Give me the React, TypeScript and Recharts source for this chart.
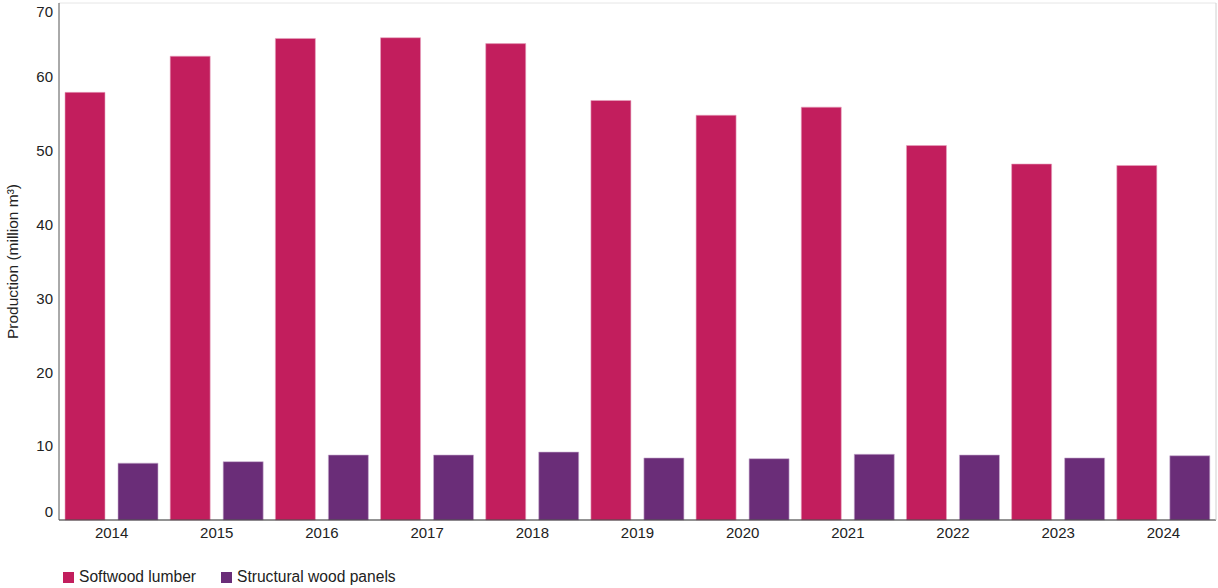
import { BarChart, Bar, XAxis, YAxis, CartesianGrid, Legend } from 'recharts';

const years = ['2014', '2015', '2016', '2017', '2018', '2019', '2020', '2021', '2022', '2023', '2024'];
const softwoodLumber = [57.9, 62.8, 65.2, 65.3, 64.5, 56.8, 54.8, 55.9, 50.7, 48.2, 48.0];
const structuralPanels = [7.7, 7.9, 8.8, 8.8, 9.2, 8.4, 8.3, 8.9, 8.8, 8.4, 8.7];
const yTicks = [0, 10, 20, 30, 40, 50, 60, 70];

const data = years.map((year, i) => ({
  year,
  softwood: softwoodLumber[i],
  panels: structuralPanels[i],
}));

const FONT = '"Liberation Sans", Arial, sans-serif';

// top and bottom labels sit slightly inside the plot in the original
function YTick(props: any) {
  const { x, y, payload } = props;
  let shift = 0;
  if (payload.value === 70) shift = 9;
  if (payload.value === 0) shift = -8;
  return (
    <text x={x} y={y + shift} dy="0.355em" textAnchor="end" fill="#222" fontSize={15} fontFamily={FONT}>
      {payload.value}
    </text>
  );
}

function LegendContent(props: any) {
  const { payload } = props;
  return (
    <div style={{ display: 'flex', alignItems: 'center', fontFamily: FONT, fontSize: 15.6, color: '#222' }}>
      {payload.map((entry: any) => (
        <div key={entry.value} style={{ display: 'flex', alignItems: 'center', marginRight: 25 }}>
          <span style={{ width: 11, height: 11, background: entry.color, display: 'inline-block', marginRight: 5 }} />
          <span>{entry.value}</span>
        </div>
      ))}
    </div>
  );
}

export default function App() {
  return (
    <div style={{ position: 'absolute', left: 0, top: 0, background: '#fff' }}>
      <BarChart
        width={1218}
        height={588}
        data={data}
        margin={{ top: 3, right: 0, left: 0, bottom: 8 }}
        barCategoryGap={6}
        barGap={13}
      >
        <CartesianGrid vertical={false} stroke="#e6e6e6" />
        <XAxis
          dataKey="year"
          height={30}
          tickLine={false}
          tickSize={5}
          tickMargin={2}
          axisLine={{ stroke: '#333' }}
          tick={{ fill: '#222', fontSize: 15, fontFamily: FONT }}
        />
        <YAxis
          yAxisId="left"
          width={59}
          domain={[0, 70]}
          ticks={yTicks}
          interval={0}
          tickLine={false}
          tickSize={4}
          tickMargin={2}
          axisLine={{ stroke: '#555' }}
          tick={<YTick />}
          label={{
            value: 'Production (million m³)',
            angle: -90,
            position: 'insideLeft',
            offset: 12,
            style: { textAnchor: 'middle', fill: '#222', fontSize: 15.5, fontFamily: FONT },
          }}
        />
        <YAxis
          yAxisId="right"
          orientation="right"
          width={2}
          domain={[0, 70]}
          tick={false}
          tickLine={false}
          axisLine={{ stroke: '#d0d0d0' }}
        />
        <Legend
          verticalAlign="bottom"
          align="left"
          height={30}
          content={<LegendContent />}
          wrapperStyle={{ left: 63, top: 568, bottom: 'auto', width: 'auto' }}
        />
        <Bar
          yAxisId="left"
          dataKey="softwood"
          name="Softwood lumber"
          fill="#C21E5D"
          stroke="#e7a5c0"
          strokeWidth={0.6}
          isAnimationActive={false}
        />
        <Bar
          yAxisId="left"
          dataKey="panels"
          name="Structural wood panels"
          fill="#6A2D78"
          stroke="#c9aed0"
          strokeWidth={0.6}
          isAnimationActive={false}
        />
      </BarChart>
    </div>
  );
}
